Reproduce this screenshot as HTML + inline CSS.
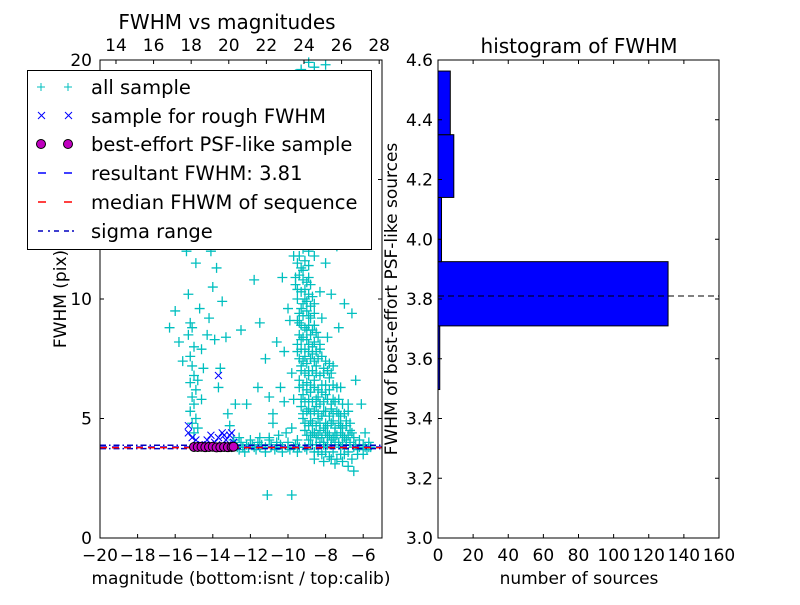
<!DOCTYPE html>
<html><head><meta charset="utf-8"><style>
body{margin:0;background:#fff;}
svg text{font-family:"DejaVu Sans","Liberation Sans",sans-serif;fill:#000;}
</style></head><body>
<svg id="c" width="800" height="600" xmlns="http://www.w3.org/2000/svg"></svg>
<script>
// ---- data ----
const allPts = "-15.2,9;-15.1,8.8;-15.3,8.5;-15,8;-15.2,7.6;-15.1,7.2;-15,6.8;-15.2,6.5;-14.9,6.2;-15.1,5.9;-15,5.6;-15.2,5.3;-14.9,5;-15.1,4.8;-14.8,4.6;-15,4.4;-15.3,10.2;-14.7,9.6;-14.6,7.9;-14.5,7.1;-14.8,6.6;-14.6,5.8;-15.4,12;-14.9,11.5;-16,9.5;-16.3,8.8;-15.8,8.2;-15.6,7.4;-14.3,8.5;-14.2,9.2;-14,10.5;-13.8,11.3;-14.1,12;-13.5,9.9;-13.3,8.4;-13.6,7.1;-13.2,5.2;-12.8,5.6;-12.5,8.7;-12.1,12.5;-11.8,10.8;-11.5,9;-11.2,7.5;-11,5.9;-10.8,5.2;-10.6,8.2;-10.4,6.3;-10.2,7.8;-10,9.6;-10.3,10.9;-9.9,12.3;-9.6,13.6;-9.4,14.8;-9.2,16;-9.5,17.5;-9.1,18.6;-9.3,19.6;-8.9,19.9;-9.6,19.4;-8.6,19.7;-8,19.8;-9.4,11.8;-9.2,11.2;-8.9,10.9;-9.5,10.4;-9.1,10;-8.8,10.6;-9.3,9.6;-8.9,9.3;-8.6,9.8;-9.4,9;-9,8.7;-8.6,8.9;-9.3,8.3;-8.9,8.1;-8.4,8.4;-9.5,7.8;-9.1,7.6;-8.7,7.7;-8.3,7.9;-9.3,7.2;-8.9,7;-8.5,7.2;-8.1,7.1;-9.4,6.6;-9,6.5;-8.6,6.6;-8.2,6.4;-7.8,6.7;-9.2,6;-8.8,6.1;-8.4,5.9;-8,6;-7.6,5.8;-9.3,5.5;-8.9,5.4;-8.5,5.5;-8.1,5.3;-7.7,5.4;-7.3,5.2;-9.2,5;-8.8,4.9;-8.4,5;-8,4.8;-7.6,4.9;-7.2,4.7;-6.9,4.9;-9.1,4.5;-8.7,4.4;-8.3,4.5;-7.9,4.3;-7.5,4.4;-7.1,4.3;-6.7,4.5;-8.9,4.1;-8.5,4.2;-8.1,4;-7.7,4.1;-7.3,4;-6.9,4.1;-6.5,4.2;-8.2,3.5;-7.8,3.4;-7.4,3.3;-7,3.5;-6.6,3.3;-6.8,3;-6.5,2.8;-7.5,3.1;-9.8,6.9;-9.7,5.8;-9.8,4.6;-10.1,4.4;-10.5,4.3;-11,4.1;-11.5,4.2;-12,4.1;-12.5,4;-12.3,3.6;-11.7,3.7;-11.2,3.6;-10.7,3.7;-10.3,3.6;-9.9,3.7;-9.5,3.6;-9,3.7;-8.6,3.6;-6.3,3.7;-6,3.9;-5.8,3.7;-6.2,4.1;-5.9,4.4;-6.1,5.6;-6.4,6.6;-6.6,9.4;-7,9.8;-7.3,8.8;-7.7,10.2;-8,11.5;-8.2,12.6;-8.5,13.8;-8.7,15;-9,15.8;-8.8,17;-9.7,14.2;-10.1,13.5;-10,15.6;-7.4,12.2;-7.8,13;-12.8,3.9;-12.6,3.7;-11.9,3.9;-11.4,3.9;-10.9,3.9;-10.4,3.9;-9.6,3.9;-8.8,3.9;-8,3.8;-7.2,3.8;-6.4,3.9;-5.7,3.8;-11.1,1.8;-9.8,1.8;-13.9,8.3;-13.7,6.3;-13.1,4.7;-12.2,5.6;-11.6,6.3;-10.8,4.8;-10.2,5.7;-9.9,9.1;-8.2,9.2;-7.9,8.4;-7.6,7.2;-7.2,6.3;-6.8,5.6;-8.3,10.3;-8.6,11.8;-9.7,12.9;-9.2,13.3;-8.9,14.2";
const densePts = "-9.5,11.5;-9.3,11.3;-9.1,11.6;-8.9,11.4;-9.4,11;-9.2,10.8;-9,10.7;-9.6,10.6;-9.3,10.3;-9.1,10.4;-8.9,10.2;-8.7,10.1;-9.5,10;-9.2,9.8;-9,9.9;-8.8,9.7;-9.4,9.4;-9.2,9.3;-9,9.5;-8.8,9.2;-8.6,9.4;-9.5,9.1;-9.3,8.9;-9.1,8.8;-8.9,8.9;-8.7,8.7;-8.5,8.6;-9.4,8.5;-9.2,8.4;-9,8.3;-8.8,8.5;-8.6,8.2;-8.3,8.1;-9.5,8.1;-9.3,7.9;-9.1,7.9;-8.9,7.8;-8.7,8;-8.5,7.8;-8.2,7.6;-9.4,7.5;-9.2,7.4;-9,7.3;-8.8,7.5;-8.6,7.4;-8.4,7.5;-8,7.4;-7.8,7.3;-9.3,7;-9.1,6.9;-8.9,6.8;-8.7,7;-8.5,6.9;-8.3,6.8;-8.1,6.9;-7.9,7;-7.7,6.9;-9.4,6.3;-9.2,6.4;-9,6.2;-8.8,6.4;-8.6,6.3;-8.4,6.2;-8.2,6.1;-8,6.4;-7.8,6.2;-7.6,6.4;-7.4,6.3;-9.3,5.8;-9.1,5.7;-8.9,5.8;-8.7,5.7;-8.5,5.8;-8.3,5.6;-8.1,5.7;-7.9,5.8;-7.7,5.6;-7.5,5.7;-7.3,5.8;-7.1,5.6;-9.2,5.2;-9,5.3;-8.8,5.2;-8.6,5.3;-8.4,5.2;-8.2,5.1;-8,5.3;-7.8,5.1;-7.6,5.2;-7.4,5.3;-7.2,5.1;-7,5.2;-6.8,5.3;-9.1,4.8;-8.9,4.7;-8.7,4.8;-8.5,4.7;-8.3,4.8;-8.1,4.6;-7.9,4.7;-7.7,4.8;-7.5,4.6;-7.3,4.8;-7.1,4.6;-6.9,4.7;-6.7,4.8;-9,4.3;-8.8,4.3;-8.6,4.4;-8.4,4.3;-8.2,4.2;-8,4.4;-7.8,4.3;-7.6,4.2;-7.4,4.3;-7.2,4.4;-7,4.2;-6.8,4.3;-6.6,4.4;-8.7,3.9;-8.5,3.9;-8.3,4;-8.1,3.9;-7.9,3.9;-7.7,3.9;-7.5,4;-7.3,3.9;-7.1,3.9;-6.9,3.9;-6.7,4;-8.4,3.6;-8,3.6;-7.6,3.6;-7.2,3.5;-6.8,3.6;-8.6,3.3;-8.1,3.2;-7.7,3.3;-7.1,3.2;-9.6,10.9;-9.7,11.8;-9.2,12.1;-8.9,12;-9.4,12.5;-9,12.8;-8.7,12.4;-13,3.8;-12.7,3.8;-12.4,3.8;-12.1,3.8;-11.8,3.8;-11.5,3.8;-11.2,3.8;-10.9,3.8;-10.6,3.8;-10.3,3.8;-10,3.8;-9.7,3.8;-9.4,3.8;-9.1,3.8;-6.5,3.8;-6.2,3.8;-5.9,3.8;-5.6,3.8;-12.9,4.1;-12.6,4.2;-12.2,3.9;-11.6,4;-11,4.2;-10.6,4;-10,4;-9.5,4.1;-6.3,3.5;-6,3.5;-5.7,4";
const roughPts = "-15.3,4.7;-15.3,4.4;-15.1,4.2;-14.9,4.1;-14.6,3.9;-14.3,4.1;-14.1,4.3;-13.9,4;-13.7,4.2;-13.5,4.4;-13.3,4.1;-13.1,4.3;-12.9,4;-13.2,3.9;-13.8,3.9;-14.4,3.9;-13.7,6.8;-13.4,4.3;-13,4.4";
const psfPts = "-15,3.81;-14.8,3.81;-14.6,3.82;-14.4,3.8;-14.2,3.81;-14,3.82;-13.8,3.79;-13.6,3.8;-13.4,3.81;-13.2,3.8;-13,3.81;-12.9,3.82";
const resultFwhm = 3.81;
const medianFwhm = 3.78;
const sigmaLo = 3.74, sigmaHi = 3.88;
const binEdges = [3.28, 3.497, 3.71, 3.925, 4.14, 4.35, 4.563];
const binCounts = [0, 1, 131, 2, 9, 7];
const xTicks = [-20,-18,-16,-14,-12,-10,-8,-6];
const yTicks = [0,5,10,15,20];
const topTicks = [14,16,18,20,22,24,26,28];
const hxTicks = [0,20,40,60,80,100,120,140,160];
const hyTicks = [3.0,3.2,3.4,3.6,3.8,4.0,4.2,4.4,4.6];

const NS="http://www.w3.org/2000/svg";
const svg=document.getElementById('c');
function mk(tag,attrs,parent){const e=document.createElementNS(NS,tag);for(const k in attrs)e.setAttribute(k,attrs[k]);(parent||svg).appendChild(e);return e;}
function parse(s){return s.split(';').map(p=>p.split(',').map(Number));}

const L={x0:100,x1:382,y0:60,y1:538};
const sx=m=>L.x0+(m+20)/15*(L.x1-L.x0);
const sy=f=>L.y1-f/20*(L.y1-L.y0);
const tx=t=>sx(t-33.15);
const R={x0:438,x1:719,y0:60,y1:538};
const hx=c=>R.x0+c/160*(R.x1-R.x0);
const hy=v=>R.y1-(v-3)/1.6*(R.y1-R.y0);

const gAll=mk('g',{});


parse(allPts).concat(parse(densePts)).forEach(([m,f])=>{const x=sx(m),y=sy(f);
  const p=mk('path',{d:`M${x-5},${y}h10M${x},${y-5}v10`,stroke:'#00bfbf','stroke-width':1.3},gAll);
  
  
});
const gR=mk('g',{});


parse(roughPts).forEach(([m,f])=>{const x=sx(m),y=sy(f);
  const p=mk('path',{d:`M${x-3.5},${y-3.5}l7,7M${x-3.5},${y+3.5}l7,-7`,stroke:'#0000ff','stroke-width':1},gR);
  
  
});
function hline(v,color,dash,name){const l=mk('line',{x1:L.x0,x2:L.x1,y1:sy(v),y2:sy(v),stroke:color,'stroke-width':1.5,'stroke-dasharray':dash});
  }
hline(sigmaHi,'#0000bf','6,3,1.5,3','sigma-upper-line');
hline(sigmaLo,'#0000bf','6,3,1.5,3','sigma-lower-line');
hline(resultFwhm,'#0000ff','7,5','resultant-fwhm-line');
hline(medianFwhm,'#ff0000','7,5','median-fwhm-line');
const gP=mk('g',{});


parse(psfPts).forEach(([m,f])=>{
  const c=mk('circle',{cx:sx(m),cy:sy(f),r:4.5,fill:'#bf00bf',stroke:'#000','stroke-width':1},gP);
  
  
});
const lf=mk('rect',{x:L.x0,y:L.y0,width:L.x1-L.x0,height:L.y1-L.y0,fill:'none',stroke:'#000','stroke-width':1});

xTicks.forEach(t=>{const x=sx(t);mk('path',{d:`M${x},${L.y1}v-4`,stroke:'#000'});
  const e=mk('text',{x:x,y:561,'font-size':17,'text-anchor':'middle'});e.textContent='\u2212'+Math.abs(t);
  });
yTicks.forEach(t=>{const y=sy(t);mk('path',{d:`M${L.x0},${y}h4M${L.x1},${y}h-4`,stroke:'#000'});
  const e=mk('text',{x:L.x0-8,y:y+6,'font-size':17,'text-anchor':'end'});e.textContent=t;
  });
topTicks.forEach(t=>{const x=tx(t);mk('path',{d:`M${x},${L.y0}v4`,stroke:'#000'});
  const e=mk('text',{x:x,y:51,'font-size':17,'text-anchor':'middle'});e.textContent=t;
  });

binCounts.forEach((c,i)=>{const y0=hy(binEdges[i+1]),y1=hy(binEdges[i]);
  const r=mk('rect',{x:R.x0,y:y0,width:Math.max(hx(c)-R.x0,0),height:y1-y0,fill:'#0000ff',stroke:'#000','stroke-width':1});
  });
const hl=mk('line',{x1:R.x0,x2:R.x1,y1:hy(resultFwhm),y2:hy(resultFwhm),stroke:'#000','stroke-width':1,'stroke-dasharray':'6,4'});

const rf=mk('rect',{x:R.x0,y:R.y0,width:R.x1-R.x0,height:R.y1-R.y0,fill:'none',stroke:'#000','stroke-width':1});

hxTicks.forEach(t=>{const x=hx(t);mk('path',{d:`M${x},${R.y1}v-4M${x},${R.y0}v4`,stroke:'#000'});
  const e=mk('text',{x:x,y:561,'font-size':17,'text-anchor':'middle'});e.textContent=t;
  });
hyTicks.forEach(t=>{const y=hy(t);mk('path',{d:`M${R.x0},${y}h4M${R.x1},${y}h-4`,stroke:'#000'});
  const e=mk('text',{x:R.x0-5,y:y+6,'font-size':17,'text-anchor':'end'});e.textContent=t.toFixed(1);
  });
</script>
<svg width="800" height="600" style="position:absolute;left:0;top:0" xmlns="http://www.w3.org/2000/svg">
<text x="227" y="29" font-size="20" text-anchor="middle">FWHM vs magnitudes</text>
<text x="579" y="53" font-size="20" text-anchor="middle">histogram of FWHM</text>
<text x="241" y="584" font-size="17" text-anchor="middle">magnitude (bottom:isnt / top:calib)</text>
<text x="579" y="584" font-size="17" text-anchor="middle">number of sources</text>
<text transform="translate(66,299) rotate(-90)" font-size="17" text-anchor="middle">FWHM (pix)</text>
<text transform="translate(397,299) rotate(-90)" font-size="17" text-anchor="middle">FWHM of best-effort PSF-like sources</text>
<g>
<rect x="27.5" y="70.5" width="344" height="179" fill="#fff" stroke="#000" stroke-width="1"/>
<g>
<path d="M37,87h8M41,83v8M64,87h8M68,83v8" stroke="#00bfbf"/>
<text x="91" y="94" font-size="19.5">all sample</text></g>
<g>
<path d="M38,112l7,7M38,119l7,-7M65,112l7,7M65,119l7,-7" stroke="#0000ff"/>
<text x="91" y="123" font-size="19.5">sample for rough FWHM</text></g>
<g>
<circle cx="41" cy="144" r="4.5" fill="#bf00bf" stroke="#000"/><circle cx="68" cy="144" r="4.5" fill="#bf00bf" stroke="#000"/>
<text x="91" y="151" font-size="19.5">best-effort PSF-like sample</text></g>
<g>
<path d="M38,173h8M64,173h8" stroke="#0000ff" stroke-width="1.5"/>
<text x="91" y="180" font-size="19.5">resultant FWHM: 3.81</text></g>
<g>
<path d="M38,202h8M64,202h8" stroke="#ff0000" stroke-width="1.5"/>
<text x="91" y="209" font-size="19.5">median FHWM of sequence</text></g>
<g>
<path d="M38,231h5M48,231h2M54,231h5M64,231h5M72,231h2" stroke="#0000bf" stroke-width="1.5"/>
<text x="91" y="238" font-size="19.5">sigma range</text></g>
</g>
</svg>
</body></html>
